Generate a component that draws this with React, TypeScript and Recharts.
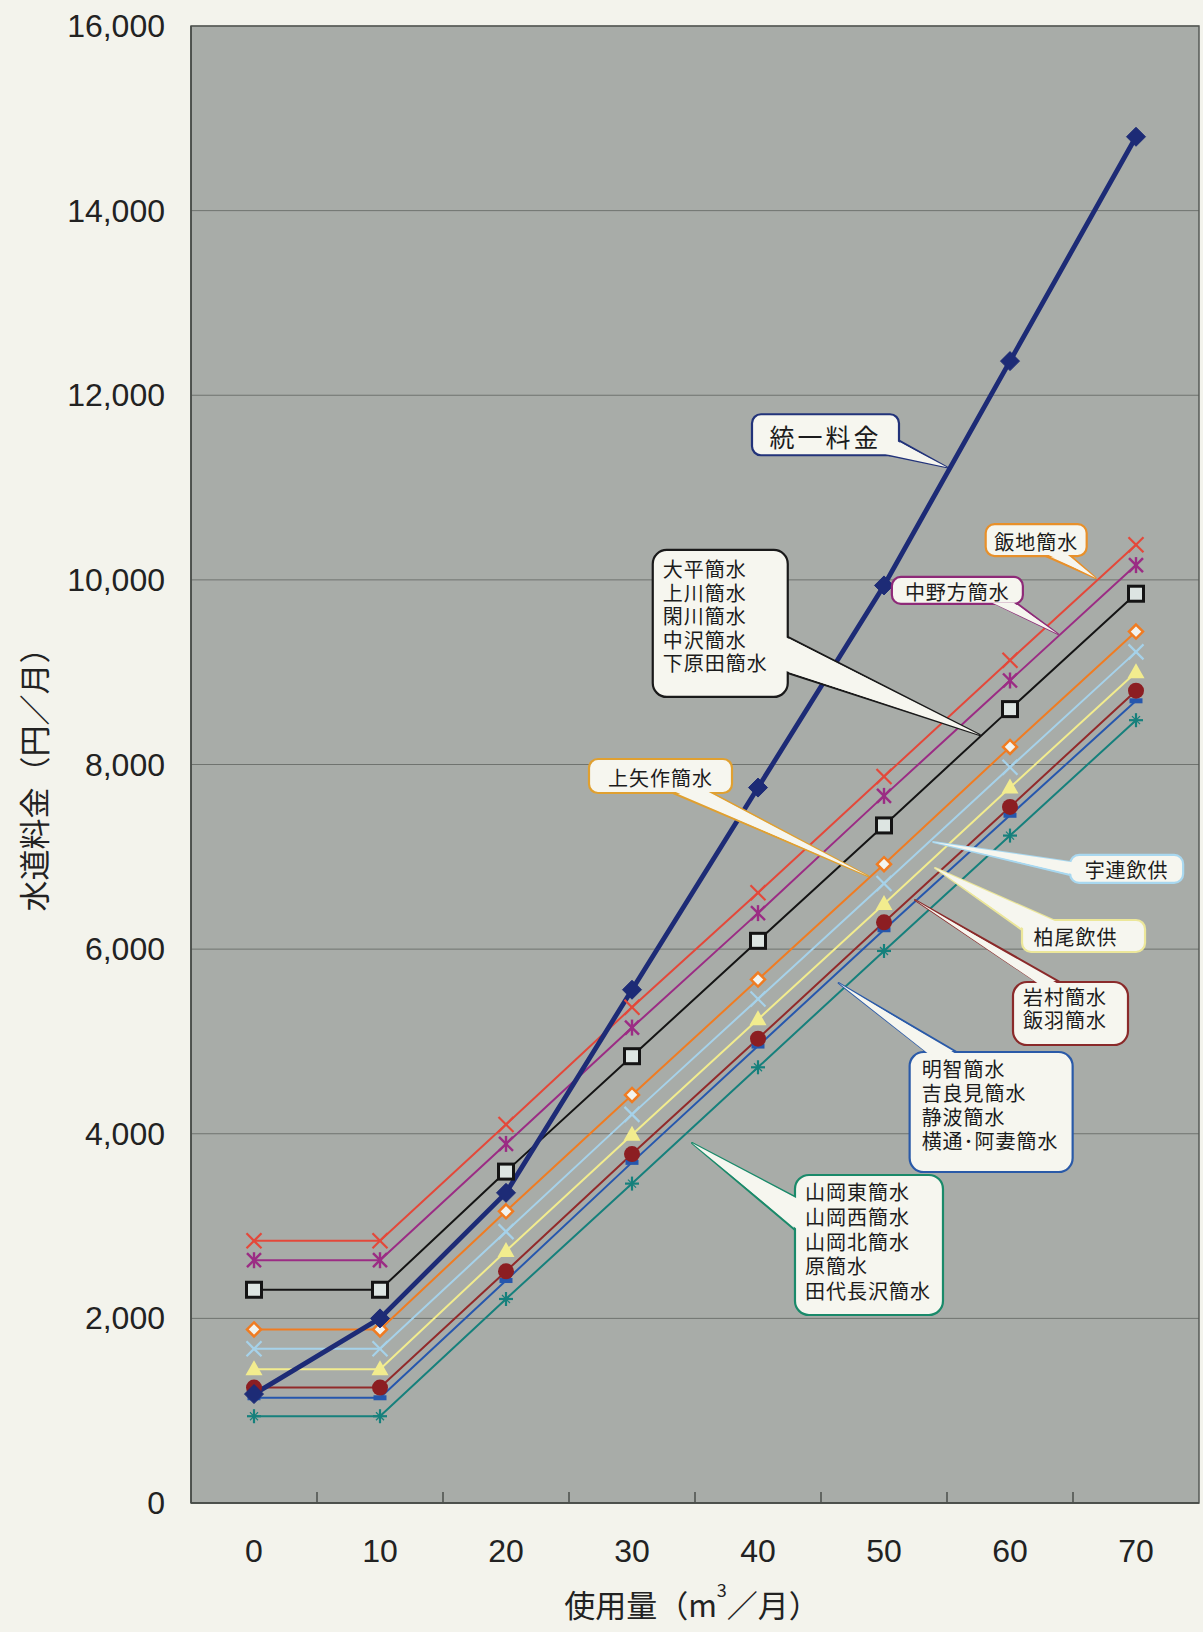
import React from "react";
import { LineChart, Line, XAxis, YAxis, CartesianGrid, ReferenceArea, ReferenceDot } from "recharts";

if (typeof document !== "undefined") {
  document.body.style.margin = "0";
  document.body.style.background = "#f3f3ec";
}

// 使用量 (m3/月)
const usage = [0, 10, 20, 30, 40, 50, 60, 70];
const yTicks = [0, 2000, 4000, 6000, 8000, 10000, 12000, 14000, 16000];

// 水道料金 (円/月)
const unified = [1180, 2000, 3360, 5560, 7750, 9940, 12370, 14800];
const iiji = [2840, 2840, 4100, 5370, 6610, 7870, 9130, 10380];
const nakanoho = [2630, 2630, 3890, 5150, 6390, 7660, 8910, 10160];
const odaira = [2310, 2310, 3590, 4840, 6090, 7340, 8600, 9850];
const kamiyahagi = [1880, 1880, 3160, 4420, 5670, 6920, 8190, 9440];
const uren = [1670, 1670, 2940, 4210, 5460, 6710, 7970, 9220];
const kashio = [1450, 1450, 2730, 3990, 5240, 6490, 7750, 9000];
const iwamura = [1250, 1250, 2510, 3780, 5030, 6290, 7540, 8800];
const akechi = [1140, 1140, 2410, 3690, 4950, 6210, 7450, 8690];
const yamaoka = [940, 940, 2210, 3460, 4720, 5980, 7230, 8480];

const W = 1203;
const H = 1632;
const M = { top: 26, right: 4, bottom: 0, left: 0 };
const Y_AXIS_W = 191;
const X_AXIS_H = 129;
const PLOT_W = W - M.left - M.right - Y_AXIS_W;
const BAND = PLOT_W / usage.length;

const NUM_FONT = "'Liberation Sans', Arial, sans-serif";
const JP_FONT = "'Noto Sans CJK JP', 'Noto Sans', sans-serif";

const series = [
  { key: "yamaoka", values: yamaoka, color: "#16807c", marker: "plus", width: 2 },
  { key: "akechi", values: akechi, color: "#2657ad", marker: "dash", width: 2 },
  { key: "iwamura", values: iwamura, color: "#922a2a", marker: "circle", width: 2 },
  { key: "kashio", values: kashio, color: "#f2ec8e", marker: "triangle", width: 2 },
  { key: "uren", values: uren, color: "#a6d2ea", marker: "x", width: 2 },
  { key: "kamiyahagi", values: kamiyahagi, color: "#f07c22", marker: "diamondHollow", width: 2 },
  { key: "odaira", values: odaira, color: "#141414", marker: "square", width: 2 },
  { key: "nakanoho", values: nakanoho, color: "#9b2c84", marker: "asterisk", width: 2 },
  { key: "iiji", values: iiji, color: "#e4483a", marker: "x", width: 2 },
  { key: "unified", values: unified, color: "#1d2b76", marker: "diamondFilled", width: 4.8 },
];

const data = usage.map((u, i) => {
  const row: Record<string, number> = { usage: u };
  series.forEach((s) => (row[s.key] = s.values[i]));
  return row;
});

// callouts: anchor = tip of the pointer (data units); box/base offsets in px from the tip
const callouts = [
  { lines: ["統一料金"], color: "#22337a", x: 55.0, y: 11220, box: [-195, -53, -48, -12], base: [[-50, -28], [-58, -12]], center: true, fs: 25, ls: 3 },
  { lines: ["大平簡水", "上川簡水", "閑川簡水", "中沢簡水", "下原田簡水"], color: "#1a1a1a", x: 57.6, y: 8320, box: [-327, -185, -192, -38], base: [[-192, -98], [-192, -62]], tx: -317, ty: -165, pitch: 23.5 },
  { lines: ["飯地簡水"], color: "#e8902a", x: 66.8, y: 10020, box: [-110, -54, -9, -22], base: [[-50, -22], [-25, -22]], center: true },
  { lines: ["中野方簡水"], color: "#8e2a78", x: 63.8, y: 9414, box: [-166, -57, -35, -30], base: [[-62, -30], [-40, -30]], center: true },
  { lines: ["上矢作簡水"], color: "#e0a030", x: 48.73, y: 6792, box: [-279, -117, -136, -83], base: [[-195, -83], [-156, -83]], center: true },
  { lines: ["宇連飲供"], color: "#a8d8f0", x: 53.9, y: 7161, box: [137, 13, 250, 41], base: [[137, 20], [137, 33]], center: true },
  { lines: ["柏尾飲供"], color: "#ece79a", x: 54.05, y: 6879, box: [87, 52, 210, 84], base: [[118, 52], [87, 62]], center: true, dx: -8 },
  { lines: ["岩村簡水", "飯羽簡水"], color: "#8a2a2a", x: 52.46, y: 6532, box: [98, 82, 213, 145], base: [[122, 82], [145, 82]], tx: 108, ty: 98, pitch: 23 },
  { lines: ["明智簡水", "吉良見簡水", "静波簡水", "横通･阿妻簡水"], color: "#2a5aa8", x: 46.4, y: 5633, box: [71, 69, 234, 189], base: [[88, 69], [118, 69]], tx: 83, ty: 87, pitch: 24 },
  { lines: ["山岡東簡水", "山岡西簡水", "山岡北簡水", "原簡水", "田代長沢簡水"], color: "#1a8a6a", x: 34.76, y: 3900, box: [103, 32, 251, 172], base: [[103, 54], [103, 87]], tx: 113, ty: 50, pitch: 24.7 },
];

function Marker({ cx, cy, kind, color }: any) {
  if (cx == null || cy == null) return null;
  switch (kind) {
    case "diamondFilled": {
      const s = 9.5;
      return <polygon points={`${cx},${cy - s} ${cx + s},${cy} ${cx},${cy + s} ${cx - s},${cy}`} fill={color} stroke={color} strokeWidth={1} />;
    }
    case "diamondHollow": {
      const s = 7;
      return <polygon points={`${cx},${cy - s} ${cx + s},${cy} ${cx},${cy + s} ${cx - s},${cy}`} fill="#f2f4f0" stroke={color} strokeWidth={2.5} />;
    }
    case "square":
      return <rect x={cx - 7.5} y={cy - 7.5} width={15} height={15} fill="#dde5e2" stroke={color} strokeWidth={3} />;
    case "x": {
      const s = 7.5;
      return (
        <g stroke={color} strokeWidth={2.2}>
          <line x1={cx - s} y1={cy - s} x2={cx + s} y2={cy + s} />
          <line x1={cx - s} y1={cy + s} x2={cx + s} y2={cy - s} />
        </g>
      );
    }
    case "asterisk": {
      const s = 7;
      return (
        <g stroke={color} strokeWidth={2.4}>
          <line x1={cx - s} y1={cy - s} x2={cx + s} y2={cy + s} />
          <line x1={cx - s} y1={cy + s} x2={cx + s} y2={cy - s} />
          <line x1={cx} y1={cy - s - 1} x2={cx} y2={cy + s + 1} />
        </g>
      );
    }
    case "triangle": {
      return <polygon points={`${cx},${cy - 9} ${cx + 8.5},${cy + 6} ${cx - 8.5},${cy + 6}`} fill={color} />;
    }
    case "circle":
      return <circle cx={cx} cy={cy} r={8} fill="#8c1e22" />;
    case "dash":
      return <rect x={cx - 6.5} y={cy - 2.5} width={13} height={5} fill={color} />;
    case "plus": {
      const s = 7;
      return (
        <g stroke={color} strokeWidth={2.2}>
          <line x1={cx - s} y1={cy} x2={cx + s} y2={cy} />
          <line x1={cx} y1={cy - s} x2={cx} y2={cy + s} />
          <line x1={cx - 4} y1={cy - 4} x2={cx + 4} y2={cy + 4} strokeWidth={1.2} />
          <line x1={cx - 4} y1={cy + 4} x2={cx + 4} y2={cy - 4} strokeWidth={1.2} />
        </g>
      );
    }
    default:
      return null;
  }
}

function Callout({ cx, cy, c }: any) {
  if (cx == null || cy == null) return null;
  const [x1, y1, x2, y2] = c.box;
  const fill = "#f6f6ef";
  const bx = cx + (x1 + x2) / 2;
  const by = cy + (y1 + y2) / 2;
  const pts = c.base.map(([dx, dy]: number[]) => [cx + dx, cy + dy]);
  const inward = pts.map(([px, py]: number[]) => {
    const vx = bx - px;
    const vy = by - py;
    const d = Math.hypot(vx, vy) || 1;
    return [px + (vx / d) * 4, py + (vy / d) * 4];
  });
  const tail = `${pts[0][0]},${pts[0][1]} ${cx},${cy} ${pts[1][0]},${pts[1][1]}`;
  const cover = `${inward[0][0]},${inward[0][1]} ${cx},${cy} ${inward[1][0]},${inward[1][1]}`;
  const h = y2 - y1;
  const r = h > 50 ? 14 : 9;
  const fs = c.fs || 20;
  return (
    <g>
      <polygon points={tail} fill={fill} stroke={c.color} strokeWidth={2} strokeLinejoin="round" />
      <rect x={cx + x1} y={cy + y1} width={x2 - x1} height={h} rx={r} ry={r} fill={fill} stroke={c.color} strokeWidth={2.2} />
      <polygon points={cover} fill={fill} />
      {c.center ? (
        <text x={bx + (c.dx || 0)} y={by + 1} textAnchor="middle" dominantBaseline="central" fontSize={fs} letterSpacing={c.ls || 1} fontFamily={JP_FONT} fill="#1c1c1c">
          {c.lines[0]}
        </text>
      ) : (
        <text x={cx + c.tx} y={cy + c.ty + fs * 0.36} fontSize={fs} letterSpacing={1} fontFamily={JP_FONT} fill="#1c1c1c">
          {c.lines.map((t: string, i: number) => (
            <tspan key={i} x={cx + c.tx} dy={i === 0 ? 0 : c.pitch}>
              {t}
            </tspan>
          ))}
        </text>
      )}
    </g>
  );
}

function XTick({ x, y, payload }: any) {
  const v = payload.value;
  return (
    <g>
      {v < usage[usage.length - 1] && (
        <line x1={x + BAND / 2} x2={x + BAND / 2} y1={y} y2={y - 11} stroke="#4b4f4b" strokeWidth={1.5} />
      )}
      <text x={x} y={y + 48} textAnchor="middle" dominantBaseline="central" fontSize={32} fill="#222" fontFamily={NUM_FONT}>
        {v}
      </text>
    </g>
  );
}

function YTick({ x, y, payload }: any) {
  return (
    <text x={x - 26} y={y} textAnchor="end" dominantBaseline="central" fontSize={32} fill="#222" fontFamily={NUM_FONT}>
      {payload.value.toLocaleString("en-US")}
    </text>
  );
}

export default function App() {
  return (
    <div style={{ position: "relative", width: W, height: H, background: "#f3f3ec" }}>
      <LineChart width={W} height={H} data={data} margin={M}>
        <CartesianGrid vertical={false} stroke="#6f736f" strokeWidth={1} fill="#a8aca8" fillOpacity={1} />
        <XAxis
          dataKey="usage"
          type="number"
          domain={[-5, 75]}
          ticks={usage}
          height={X_AXIS_H}
          tickLine={false}
          tickSize={0}
          tickMargin={0}
          tick={<XTick />}
          axisLine={{ stroke: "#454945", strokeWidth: 1.5 }}
          interval={0}
        />
        <YAxis
          type="number"
          domain={[0, 16000]}
          ticks={yTicks}
          width={Y_AXIS_W}
          tickLine={false}
          tickSize={0}
          tickMargin={0}
          tick={<YTick />}
          axisLine={{ stroke: "#454945", strokeWidth: 1.5 }}
          interval={0}
        />
        <ReferenceArea x1={-5} x2={75} y1={0} y2={16000} fill="none" stroke="#555955" strokeWidth={1.5} />
        {series.map((s) => (
          <Line
            key={s.key}
            type="linear"
            dataKey={s.key}
            stroke={s.color}
            strokeWidth={s.width}
            dot={(p: any) => <Marker key={`${s.key}-${p.index}`} cx={p.cx} cy={p.cy} kind={s.marker} color={s.color} />}
            activeDot={false}
            isAnimationActive={false}
          />
        ))}
        {callouts.map((c, i) => (
          <ReferenceDot key={i} x={c.x} y={c.y} r={0} ifOverflow="visible" shape={(p: any) => <Callout cx={p.cx} cy={p.cy} c={c} />} />
        ))}
      </LineChart>
      <svg width={W} height={H} style={{ position: "absolute", left: 0, top: 0, pointerEvents: "none" }}>
        <text
          transform="translate(32,772) rotate(-90)"
          textAnchor="middle"
          dominantBaseline="central"
          fontSize={31}
          fontFamily={JP_FONT}
          fill="#222"
        >
          水道料金（円／月）
        </text>
        <text x={692} y={1603} textAnchor="middle" dominantBaseline="central" fontSize={31} fontFamily={JP_FONT} fill="#222">
          使用量（m<tspan fontSize={18} dy={-14}>3</tspan>
          <tspan dy={14}>／月）</tspan>
        </text>
      </svg>
    </div>
  );
}
